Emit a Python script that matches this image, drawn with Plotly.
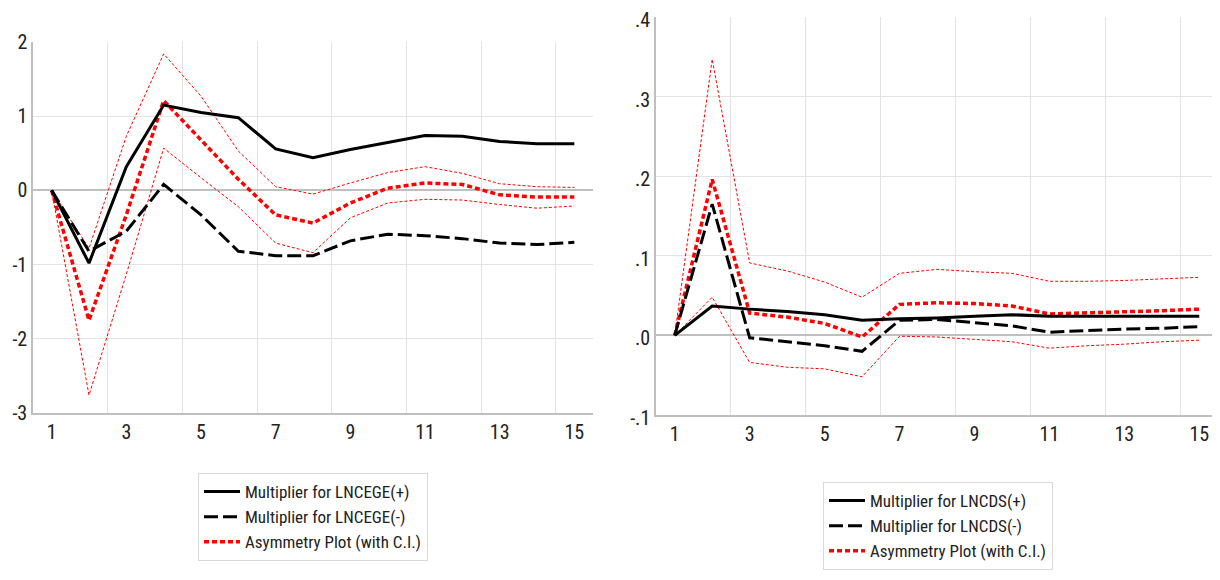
import plotly.graph_objects as go

periods = list(range(1, 16))

# Left panel: LNCEGE
ceg_pos = [0, -0.98, 0.32, 1.15, 1.05, 0.98, 0.56, 0.44, 0.55, 0.64, 0.74, 0.73, 0.66, 0.63, 0.63]
ceg_neg = [0, -0.82, -0.55, 0.08, -0.33, -0.82, -0.88, -0.88, -0.68, -0.59, -0.61, -0.65, -0.71, -0.73, -0.70]
ceg_asym = [0, -1.75, -0.33, 1.21, 0.68, 0.15, -0.33, -0.44, -0.17, 0.03, 0.10, 0.08, -0.06, -0.09, -0.09]
ceg_up = [0, -0.78, 0.73, 1.84, 1.27, 0.53, 0.05, -0.05, 0.10, 0.24, 0.32, 0.23, 0.09, 0.05, 0.04]
ceg_lo = [0, -2.76, -1.13, 0.57, 0.17, -0.22, -0.71, -0.84, -0.37, -0.17, -0.12, -0.13, -0.19, -0.24, -0.21]

# Right panel: LNCDS
cds_pos = [0, 0.037, 0.033, 0.030, 0.026, 0.019, 0.021, 0.022, 0.024, 0.026, 0.024, 0.024, 0.024, 0.024, 0.024]
cds_neg = [0, 0.165, -0.003, -0.008, -0.013, -0.020, 0.019, 0.020, 0.016, 0.012, 0.004, 0.006, 0.008, 0.009, 0.011]
cds_asym = [0, 0.196, 0.028, 0.023, 0.015, -0.002, 0.039, 0.041, 0.040, 0.037, 0.027, 0.028, 0.030, 0.031, 0.033]
cds_up = [0, 0.347, 0.091, 0.081, 0.067, 0.048, 0.078, 0.083, 0.080, 0.078, 0.068, 0.068, 0.069, 0.071, 0.073]
cds_lo = [0, 0.048, -0.034, -0.040, -0.042, -0.052, -0.001, -0.002, -0.005, -0.008, -0.016, -0.013, -0.011, -0.008, -0.006]

x_ticks = [1, 3, 5, 7, 9, 11, 13, 15]
x_ticktext = ["1", "3", "5", "7", "9", "11", "13", "15"]
left_yticks = [-3, -2, -1, 0, 1, 2]
left_ytext = ["-3", "-2", "-1", "0", "1", "2"]
right_yticks = [-0.1, 0.0, 0.1, 0.2, 0.3, 0.4]
right_ytext = ["-.1", ".0", ".1", ".2", ".3", ".4"]

FONT = "Liberation Sans Narrow, Arial Narrow, Roboto Condensed, Liberation Sans, sans-serif"
RED = "#ff0000"
GRID = "#e3e3e3"
AXIS = "#bfbfbf"

fig = go.Figure()


def add_panel(xa, ya, pos, neg, asym, up, lo, name, legend):
    for ci in (up, lo):
        fig.add_trace(go.Scatter(x=periods, y=ci, xaxis=xa, yaxis=ya, mode="lines",
                                 line=dict(color=RED, width=1, dash="3px,2px"),
                                 showlegend=False, hoverinfo="skip"))
    fig.add_trace(go.Scatter(x=periods, y=asym, xaxis=xa, yaxis=ya, mode="lines",
                             name="Asymmetry Plot (with C.I.)", legend=legend, legendrank=3,
                             line=dict(color=RED, width=3.5, dash="5px,3px")))
    fig.add_trace(go.Scatter(x=periods, y=neg, xaxis=xa, yaxis=ya, mode="lines",
                             name="Multiplier for %s(-)" % name, legend=legend, legendrank=2,
                             line=dict(color="black", width=3, dash="14px,5px")))
    fig.add_trace(go.Scatter(x=periods, y=pos, xaxis=xa, yaxis=ya, mode="lines",
                             name="Multiplier for %s(+)" % name, legend=legend, legendrank=1,
                             line=dict(color="black", width=3)))


add_panel("x", "y", ceg_pos, ceg_neg, ceg_asym, ceg_up, ceg_lo, "LNCEGE", "legend")
add_panel("x2", "y2", cds_pos, cds_neg, cds_asym, cds_up, cds_lo, "LNCDS", "legend2")

W, H = 1220, 580
OFF = 8  # page body margin


def px(x):
    return (x - OFF) / W


def py(y):
    return 1 - (y - OFF) / H


def xaxis(x0, x1):
    return dict(domain=[px(x0), px(x1)], range=[0.5, 15.5], tickmode="array",
                tickvals=x_ticks, ticktext=x_ticktext, showgrid=False, zeroline=False,
                showline=True, linecolor=AXIS, linewidth=1.5, ticks="", ticklen=0,
                tickfont=dict(family=FONT, size=20, color="#222222"), automargin=False,
                minor=dict(tickmode="array", tickvals=[2.5, 4.5, 6.5, 8.5, 10.5, 12.5, 14.5],
                           showgrid=True, gridcolor=GRID, gridwidth=1, ticks=""),
                fixedrange=True)


def yaxis(y_top, y_bot, rng, tv, tt, grid_vals, anchor, shift=0):
    return dict(domain=[py(y_bot), py(y_top)], range=rng, tickmode="array",
                tickvals=tv, ticktext=tt, showgrid=False, zeroline=True,
                zerolinecolor=AXIS, zerolinewidth=1.5, showline=True, linecolor=AXIS,
                linewidth=1.5, ticks="", anchor=anchor, ticklabeloverflow="allow",
                ticklabelshift=shift,
                tickfont=dict(family=FONT, size=20, color="#222222"), automargin=False,
                minor=dict(tickmode="array", tickvals=grid_vals, showgrid=True,
                           gridcolor=GRID, gridwidth=1, ticks=""),
                fixedrange=True)


fig.update_layout(
    width=W, height=H,
    margin=dict(l=0, r=0, t=0, b=0),
    paper_bgcolor="white", plot_bgcolor="white",
    template="none",
    xaxis=xaxis(33, 593),
    yaxis=yaxis(42, 413, [-3, 2], left_yticks, left_ytext, [-2, -1, 1], "x"),
    xaxis2=dict(xaxis(656, 1218), anchor="y2"),
    yaxis2=yaxis(17, 415, [-0.1, 0.4], right_yticks, right_ytext, [0.1, 0.2, 0.3], "x2",
                 shift=3),
    legend=dict(x=px(198), y=py(473), xanchor="left", yanchor="top",
                bordercolor="#d9d9d9", borderwidth=1, bgcolor="white",
                font=dict(family=FONT, size=17, color="#222222"), tracegroupgap=0,
                itemwidth=36),
    legend2=dict(x=px(823), y=py(482), xanchor="left", yanchor="top",
                 bordercolor="#d9d9d9", borderwidth=1, bgcolor="white",
                 font=dict(family=FONT, size=17, color="#222222"), tracegroupgap=0,
                 itemwidth=36),
    showlegend=True,
)

fig.write_html("out.html")
